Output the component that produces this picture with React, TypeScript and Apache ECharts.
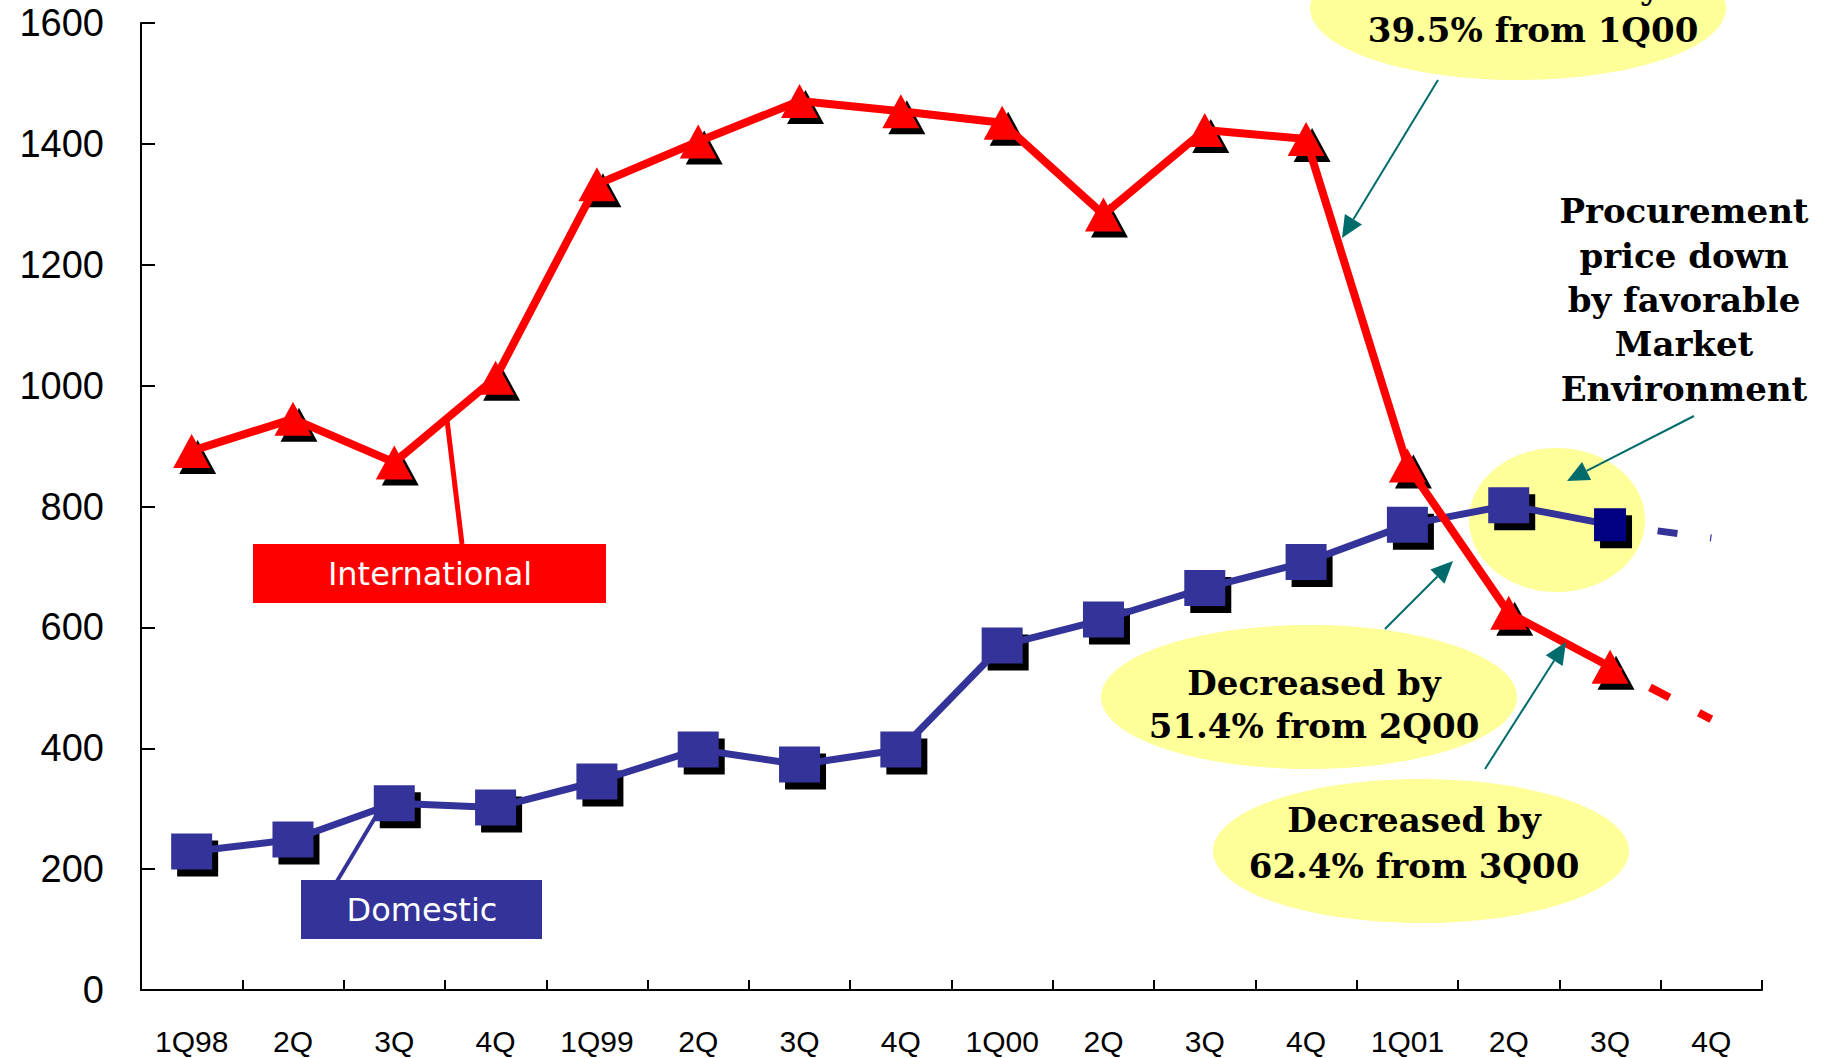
import React, { useEffect, useRef } from "react";
import * as echarts from "echarts";

const categories = ["1Q98", "2Q", "3Q", "4Q", "1Q99", "2Q", "3Q", "4Q", "1Q00", "2Q", "3Q", "4Q", "1Q01", "2Q", "3Q", "4Q"];
// actual values (last quarter is a forecast drawn dashed)
const internationalActual = [892, 945, 873, 1013, 1333, 1404, 1471, 1454, 1435, 1283, 1423, 1408, 868, 624, 535];
const internationalForecast4Q01 = 448;
const domesticActual = [229, 249, 309, 302, 345, 398, 373, 398, 570, 613, 665, 708, 770, 802, 770];
const domesticForecast4Q01 = 748;
const yTicks = { min: 0, max: 1600, interval: 200 };

const RED = "#FF0000";
const BLUE = "#333399";
const NAVY = "#000080";
const TEAL = "#006B6B";
const YELLOW = "#FFFF99";

function arrow(x1: number, y1: number, x2: number, y2: number) {
  const dx = x2 - x1;
  const dy = y2 - y1;
  const len = Math.sqrt(dx * dx + dy * dy);
  const ux = dx / len;
  const uy = dy / len;
  const hl = 22;
  const hw = 10;
  const bx = x2 - ux * hl;
  const by = y2 - uy * hl;
  return [
    {
      type: "line",
      z: 20,
      shape: { x1, y1, x2: bx, y2: by },
      style: { stroke: TEAL, lineWidth: 2 },
    },
    {
      type: "polygon",
      z: 20,
      shape: {
        points: [
          [x2, y2],
          [bx - uy * hw, by + ux * hw],
          [bx + uy * hw, by - ux * hw],
        ],
      },
      style: { fill: TEAL },
    },
  ];
}

function label(text: string, x: number, y: number, font: string, fill: string, lineHeight?: number) {
  return {
    type: "text",
    z: 30,
    x,
    y,
    style: {
      text,
      x: 0,
      y: 0,
      font,
      fill,
      align: "center",
      verticalAlign: "middle",
      textAlign: "center",
      textVerticalAlign: "middle",
      lineHeight: lineHeight || 44,
    },
  };
}

function ellipse(cx: number, cy: number, rx: number, ry: number) {
  return {
    type: "ellipse",
    z: 1,
    shape: { cx, cy, rx, ry },
    style: { fill: YELLOW },
  };
}

export default function App() {
  const ref = useRef<HTMLDivElement>(null);

  useEffect(() => {
    if (!ref.current) return;
    const chart = echarts.init(ref.current, null, { renderer: "svg" });

    const n = categories.length;
    const intlMain = categories.map((_, i) => (i < internationalActual.length ? internationalActual[i] : "-"));
    const domMain = categories.map((_, i) => {
      if (i >= domesticActual.length) return "-";
      if (i === domesticActual.length - 1) {
        return { value: domesticActual[i], symbolSize: [32, 33], itemStyle: { color: NAVY } };
      }
      return domesticActual[i];
    });
    const domShadow = categories.map((_, i) => {
      if (i >= domesticActual.length) return "-";
      if (i === domesticActual.length - 1) return { value: domesticActual[i], symbolSize: [32, 33] };
      return domesticActual[i];
    });
    const intlDash = categories.map((_, i) =>
      i === n - 2 ? internationalActual[internationalActual.length - 1] : i === n - 1 ? internationalForecast4Q01 : "-"
    );
    const domDash = categories.map((_, i) =>
      i === n - 2 ? domesticActual[domesticActual.length - 1] : i === n - 1 ? domesticForecast4Q01 : "-"
    );

    const serifFont = "bold 34px 'DejaVu Serif'";

    const option: any = {
      animation: false,
      backgroundColor: "#ffffff",
      grid: { left: 141, right: 65, top: 23, bottom: 68, containLabel: false },
      xAxis: {
        type: "category",
        data: categories,
        boundaryGap: true,
        axisLine: { show: true, lineStyle: { color: "#000", width: 2 } },
        axisTick: { show: true, inside: true, length: 10, lineStyle: { color: "#000", width: 2 } },
        axisLabel: {
          color: "#000",
          fontSize: 30,
          fontFamily: "'Liberation Sans', Arial, sans-serif",
          margin: 36,
          interval: 0,
        },
        splitLine: { show: false },
      },
      yAxis: {
        type: "value",
        min: yTicks.min,
        max: yTicks.max,
        interval: yTicks.interval,
        axisLine: { show: true, lineStyle: { color: "#000", width: 2 } },
        axisTick: { show: true, inside: true, length: 14, lineStyle: { color: "#000", width: 2 } },
        axisLabel: {
          color: "#000",
          fontSize: 38,
          fontFamily: "'Liberation Sans', Arial, sans-serif",
          margin: 37,
          formatter: (v: number) => String(v),
        },
        splitLine: { show: false },
      },
      series: [
        {
          name: "Domestic shadow",
          type: "scatter",
          data: domShadow,
          symbol: "rect",
          symbolSize: [41, 36],
          symbolOffset: [6, 7],
          itemStyle: { color: "#000", opacity: 1 },
          z: 3,
          silent: true,
        },
        {
          name: "Domestic",
          type: "line",
          data: domMain,
          symbol: "rect",
          symbolSize: [41, 36],
          showAllSymbol: true,
          itemStyle: { color: BLUE, opacity: 1 },
          lineStyle: { color: BLUE, width: 7 },
          z: 4,
        },
        {
          name: "Domestic forecast",
          type: "line",
          data: domDash,
          symbol: "none",
          lineStyle: { color: BLUE, width: 7, type: [20, 33], dashOffset: 5 },
          z: 4,
        },
        {
          name: "International shadow",
          type: "scatter",
          data: intlMain,
          symbol: "triangle",
          symbolSize: [37, 34],
          symbolOffset: [6, 6],
          itemStyle: { color: "#000", opacity: 1 },
          z: 5,
          silent: true,
        },
        {
          name: "International",
          type: "line",
          data: intlMain,
          symbol: "triangle",
          symbolSize: [37, 34],
          showAllSymbol: true,
          itemStyle: { color: RED, opacity: 1 },
          lineStyle: { color: RED, width: 8 },
          z: 6,
        },
        {
          name: "International forecast",
          type: "line",
          data: intlDash,
          symbol: "none",
          lineStyle: { color: RED, width: 8, type: [22, 33], dashOffset: 10 },
          z: 6,
        },
      ],
      graphic: {
        elements: [
          ellipse(1518, 8, 208, 72),
          ellipse(1557, 520, 88, 72),
          ellipse(1309, 697, 208, 72),
          ellipse(1421, 851, 208, 72),
          label("Decreased by\n39.5% from 1Q00", 1533, 8, serifFont, "#000", 43),
          label("Procurement\nprice down\nby favorable\nMarket\nEnvironment", 1684, 300, serifFont, "#000", 44.3),
          label("Decreased by\n51.4% from 2Q00", 1314, 704, serifFont, "#000", 43),
          label("Decreased by\n62.4% from 3Q00", 1414, 843, serifFont, "#000", 46),
          ...arrow(1438, 80, 1342, 238),
          ...arrow(1694, 416, 1567, 481),
          ...arrow(1385, 629, 1453, 561),
          ...arrow(1485, 769, 1566, 642),
          {
            type: "line",
            z: 25,
            shape: { x1: 462, y1: 544, x2: 447, y2: 420 },
            style: { stroke: RED, lineWidth: 5 },
          },
          {
            type: "rect",
            z: 26,
            shape: { x: 253, y: 544, width: 353, height: 59 },
            style: { fill: RED },
          },
          label("International", 430, 574, "32px 'DejaVu Sans'", "#ffffff"),
          {
            type: "line",
            z: 25,
            shape: { x1: 303, y1: 938, x2: 382, y2: 806 },
            style: { stroke: BLUE, lineWidth: 4 },
          },
          {
            type: "rect",
            z: 26,
            shape: { x: 301, y: 880, width: 241, height: 59 },
            style: { fill: BLUE },
          },
          label("Domestic", 422, 910, "32px 'DejaVu Sans'", "#ffffff"),
        ],
      },
    };

    chart.setOption(option);
    return () => {
      chart.dispose();
    };
  }, []);

  return (
    <div
      ref={ref}
      style={{ position: "absolute", left: 0, top: 0, width: 1827, height: 1058, background: "#fff" }}
    />
  );
}
